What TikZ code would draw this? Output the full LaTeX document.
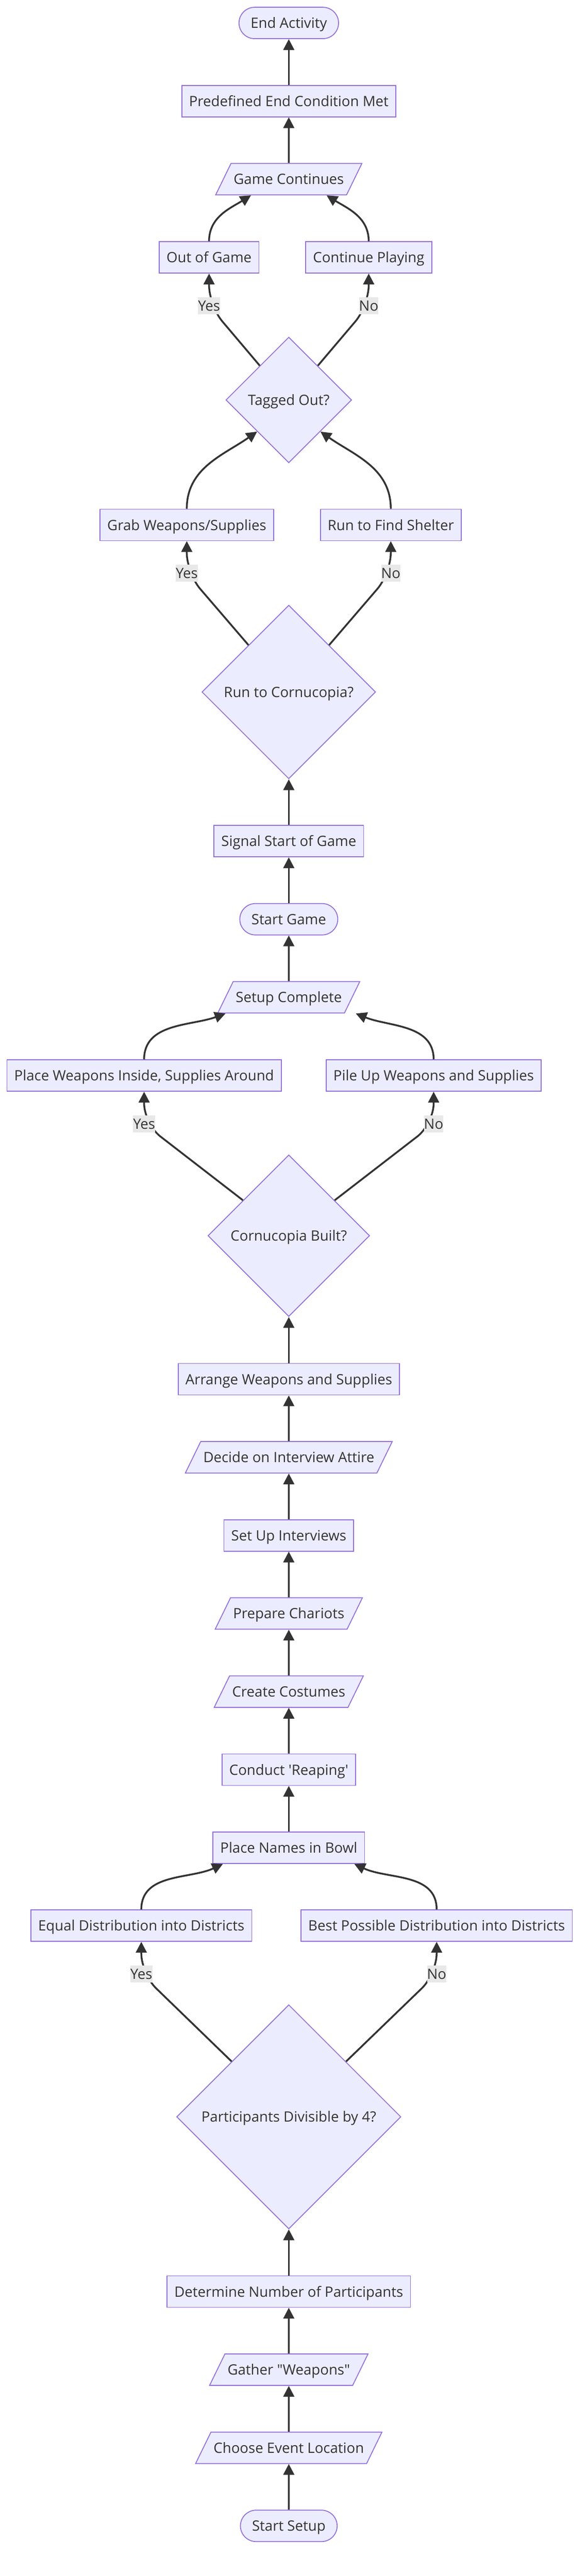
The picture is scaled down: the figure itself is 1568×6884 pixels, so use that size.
\documentclass[tikz,border=0pt]{standalone}
\usepackage{fontspec}
\setmainfont{Open Sans}
\usetikzlibrary{shapes.geometric,arrows.meta}
\definecolor{mmfill}{HTML}{ECECFF}
\definecolor{mmline}{HTML}{9370DB}
\definecolor{mmtext}{HTML}{333333}
\definecolor{mmlabel}{HTML}{E8E8E8}
\tikzset{
    box/.style={draw=mmline, fill=mmfill, line width=2.4pt, text=mmtext,
        font=\fontsize{38pt}{46pt}\selectfont, text height=33pt, text depth=5pt,
        inner ysep=23pt, minimum height=84pt},
    proc/.style={box, rectangle, inner xsep=19.5pt},
    term/.style={box, rectangle, rounded corners=42pt, inner xsep=31pt},
    io/.style={box, trapezium, trapezium left angle=64, trapezium right angle=116, inner xsep=7pt},
    decision/.style={box, diamond, aspect=1, inner sep=0pt},
    lbl/.style={sharp corners, fill=mmlabel, text=mmtext, font=\fontsize{38pt}{46pt}\selectfont,
        text height=33pt, text depth=5pt, inner xsep=0pt, inner ysep=4pt},
    link/.style={->, draw=mmtext, line width=4.8pt}
}
\begin{document}
\begin{tikzpicture}[node distance=208.7pt, >={Triangle[length=29pt,width=29pt]}]
            \useasboundingbox (0pt,0pt) rectangle (1568pt,-6884pt);
            \node(setup) [term] at (771.5pt,-6750pt) {Start Setup};
            \node(location) [io, above of=setup] {Choose Event Location};
            \node(gather) [io, above of=location] {Gather \textquotedbl Weapons\textquotedbl};
            \node(count) [proc, above of=gather] {Determine Number of Participants};
            \node(divisible) [decision, minimum width=599pt, minimum height=599pt, node distance=467pt, above of=count] {Participants Divisible by 4?};
            \node(equal) [proc, node distance=511pt, above of=divisible, xshift=-394pt] {Equal Distribution into Districts};
            \node(best) [proc, node distance=511pt, above of=divisible, xshift=395pt] {Best Possible Distribution into Districts};
            \node(bowl) [proc, node distance=719pt, above of=divisible] {Place Names in Bowl};
            \node(reaping) [proc, above of=bowl] {Conduct \textquotesingle Reaping\textquotesingle};
            \node(costumes) [io, above of=reaping] {Create Costumes};
            \node(chariots) [io, above of=costumes] {Prepare Chariots};
            \node(interviews) [proc, above of=chariots] {Set Up Interviews};
            \node(attire) [io, above of=interviews] {Decide on Interview Attire};
            \node(arrange) [proc, above of=attire] {Arrange Weapons and Supplies};
            \node(built) [decision, minimum width=432pt, minimum height=432pt, node distance=383.5pt, above of=arrange] {Cornucopia Built?};
            \node(inside) [proc, node distance=428pt, above of=built, xshift=-386.5pt] {Place Weapons Inside, Supplies Around};
            \node(pile) [proc, node distance=428pt, above of=built, xshift=387pt] {Pile Up Weapons and Supplies};
            \node(complete) [io, node distance=637pt, above of=built] {Setup Complete};
            \node(startgame) [term, above of=complete] {Start Game};
            \node(signal) [proc, above of=startgame] {Signal Start of Game};
            \node(cornucopia) [decision, minimum width=464pt, minimum height=464pt, node distance=398.5pt, above of=signal] {Run to Cornucopia?};
            \node(grab) [proc, node distance=446.5pt, above of=cornucopia, xshift=-272.5pt] {Grab Weapons/Supplies};
            \node(shelter) [proc, node distance=446.5pt, above of=cornucopia, xshift=272.5pt] {Run to Find Shelter};
            \node(tagged) [decision, minimum width=336pt, minimum height=336pt, node distance=780.5pt, above of=cornucopia] {Tagged Out?};
            \node(outgame) [proc, node distance=381pt, above of=tagged, xshift=-213pt] {Out of Game};
            \node(continue) [proc, node distance=381pt, above of=tagged, xshift=213.5pt] {Continue Playing};
            \node(gamecont) [io, node distance=590pt, above of=tagged] {Game Continues};
            \node(endcond) [proc, above of=gamecont] {Predefined End Condition Met};
            \node(endact) [term, above of=endcond] {End Activity};
            \coordinate (yesdiv) at ([yshift=-86pt]equal.south);
            \coordinate (nodiv) at ([yshift=-86pt]best.south);
            \coordinate (yesbuilt) at ([yshift=-86pt]inside.south);
            \coordinate (nobuilt) at ([yshift=-86pt]pile.south);
            \coordinate (yesrun) at ([yshift=-86pt]grab.south);
            \coordinate (norun) at ([yshift=-86pt]shelter.south);
            \coordinate (yestag) at ([yshift=-86pt]outgame.south);
            \coordinate (notag) at ([yshift=-86pt]continue.south);
            \draw[link](setup) -- (location);
            \draw[link](location) -- (gather);
            \draw[link](gather) -- (count);
            \draw[link](count) -- (divisible);
            \draw[link, rounded corners=55pt](divisible) -- (yesdiv) node [lbl] {Yes} -- (equal);
            \draw[link, rounded corners=55pt](divisible) -- (nodiv) node [lbl] {No} -- (best);
            \draw[link](equal) to[out=90, in=-155] ([xshift=-176pt]bowl.south);
            \draw[link](best) to[out=90, in=-25] ([xshift=175pt]bowl.south);
            \draw[link](bowl) -- (reaping);
            \draw[link](reaping) -- (costumes);
            \draw[link](costumes) -- (chariots);
            \draw[link](chariots) -- (interviews);
            \draw[link](interviews) -- (attire);
            \draw[link](attire) -- (arrange);
            \draw[link](arrange) -- (built);
            \draw[link, rounded corners=55pt](built) -- (yesbuilt) node [lbl] {Yes} -- (inside);
            \draw[link, rounded corners=55pt](built) -- (nobuilt) node [lbl] {No} -- (pile);
            \draw[link](inside) to[out=90, in=-160] ([xshift=-169pt]complete.south);
            \draw[link](pile) to[out=90, in=-22] ([xshift=179pt]complete.south);
            \draw[link](complete) -- (startgame);
            \draw[link](startgame) -- (signal);
            \draw[link](signal) -- (cornucopia);
            \draw[link, rounded corners=55pt](cornucopia) -- (yesrun) node [lbl] {Yes} -- (grab);
            \draw[link, rounded corners=55pt](cornucopia) -- (norun) node [lbl] {No} -- (shelter);
            \draw[link](grab) to[out=90, in=-145] (tagged.south west);
            \draw[link](shelter) to[out=90, in=-35] (tagged.south east);
            \draw[link, rounded corners=55pt](tagged) -- (yestag) node [lbl] {Yes} -- (outgame);
            \draw[link, rounded corners=55pt](tagged) -- (notag) node [lbl] {No} -- (continue);
            \draw[link](outgame) to[out=90, in=-148] ([xshift=-101pt]gamecont.south);
            \draw[link](continue) to[out=90, in=-32] ([xshift=101pt]gamecont.south);
            \draw[link](gamecont) -- (endcond);
            \draw[link](endcond) -- (endact);
\end{tikzpicture}
\end{document}
